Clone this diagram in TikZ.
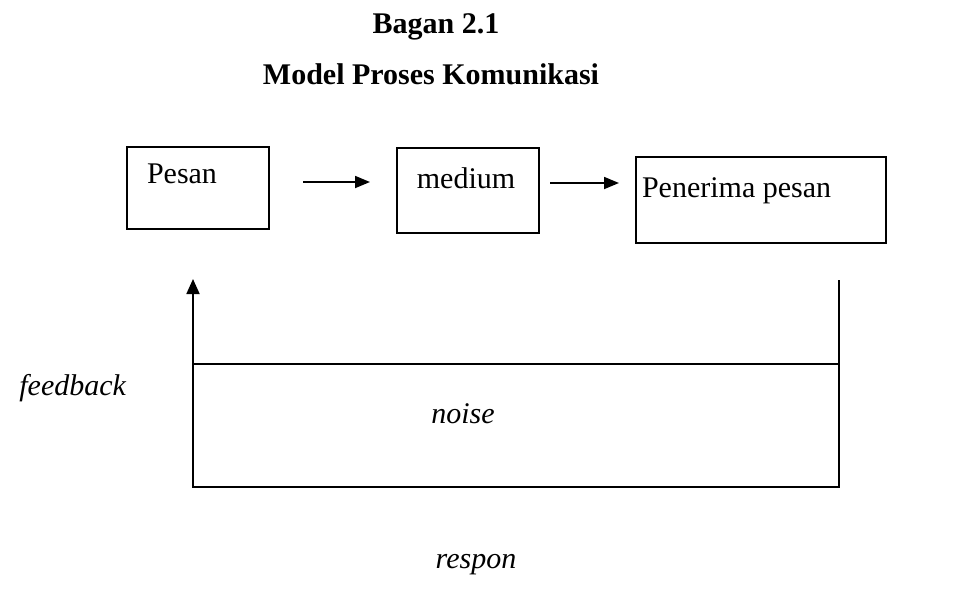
\documentclass[tikz,border=0pt]{standalone}
\usepackage{fontspec}
\setmainfont{Liberation Serif}
\usetikzlibrary{arrows.meta}

\begin{document}
\begin{tikzpicture}[x=1pt,y=-1pt,
  every node/.style={inner sep=0pt, outer sep=0pt, font=\fontsize{30}{36}\selectfont},
  box/.style={draw, line width=1.8pt},
  lbl/.style={text=black},
  titletext/.style={font=\fontsize{30}{36}\selectfont\bfseries},
  ital/.style={font=\fontsize{30}{36}\selectfont\itshape},
  flow/.style={line width=1.8pt, -{Triangle[length=15pt,width=12pt]}},
  uparrow/.style={line width=1.8pt, -{Triangle[length=15pt,width=13pt]}},
  rule/.style={line width=1.8pt}]

  % page frame
  \useasboundingbox (0,0) rectangle (960,598);

  % heading
  \node[titletext, anchor=base] (bagan) at (436,33) {Bagan 2.1};
  \node[titletext, anchor=base] (judul) at (431,84) {Model Proses Komunikasi};

  % the three stages
  \node[box, minimum width=142pt, minimum height=82pt] (pesan) at (198,188) {};
  \node[lbl, anchor=base west] (pesanlbl) at (147,183) {Pesan};

  \node[box, minimum width=142pt, minimum height=85pt] (medium) at (468,190.5) {};
  \node[lbl, anchor=base] (mediumlbl) at (466,188) {medium};

  \node[box, minimum width=250pt, minimum height=86pt] (penerima) at (761,200) {};
  \node[lbl, anchor=base west] (penerimalbl) at (642,197) {Penerima pesan};

  % forward flow
  \draw[flow, shorten <=34pt, shorten >=27pt]
    ([yshift=6pt]pesan.east) -- ([yshift=8.5pt]medium.west);
  \draw[flow, shorten <=11pt, shorten >=17pt]
    ([yshift=7.5pt]medium.east) -- ([yshift=17pt]penerima.west);

  % noise band with the feedback loop
  \node[draw, line width=1.8pt, minimum width=646pt, minimum height=123pt] (noisebox) at (516,425.5) {};
  \coordinate (fbtip) at (193,279);
  \coordinate (rtop) at (839,280);
  \draw[uparrow] (noisebox.south west) -- (fbtip);
  \draw[rule] (noisebox.south east) -- (rtop);

  \node[ital, anchor=base east] (feedback) at (126,395) {feedback};
  \node[ital, anchor=base] (noise) at (463,423) {noise};
  \node[ital, anchor=base] (respon) at (476,568) {respon};
\end{tikzpicture}
\end{document}
